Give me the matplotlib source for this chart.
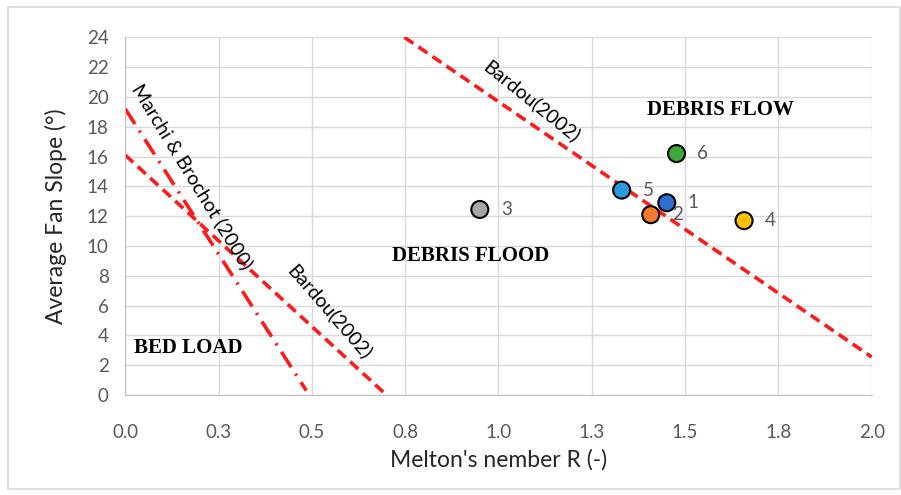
import matplotlib.pyplot as plt
from matplotlib.patches import Rectangle

# basins: Melton number R and average fan slope
basin_ids = ["1", "2", "3", "4", "5", "6"]
melton_r = [1.451, 1.408, 0.950, 1.658, 1.330, 1.477]
fan_slope = [12.9, 12.1, 12.45, 11.7, 13.75, 16.2]
basin_colors = ["#2f6fd2", "#f47a30", "#a6a6a6", "#ffc000", "#2b9be0", "#3fa83a"]

# threshold lines (end points)
bardou_upper_r = [0.748, 2.0]
bardou_upper_s = [24.0, 2.55]
bardou_lower_r = [0.0, 0.70]
bardou_lower_s = [16.1, 0.0]
marchi_r = [0.0, 0.485]
marchi_s = [19.2, 0.3]

x_ticks = [0.0, 0.25, 0.5, 0.75, 1.0, 1.25, 1.5, 1.75, 2.0]
x_tick_labels = ["0.0", "0.3", "0.5", "0.8", "1.0", "1.3", "1.5", "1.8", "2.0"]
y_ticks = list(range(0, 25, 2))

plt.rcParams["font.family"] = ["Lato", "DejaVu Sans"]

fig = plt.figure(figsize=(9.01, 4.95), dpi=100)
ax = fig.add_axes([0.139, 0.202, 0.8285, 0.7226])

fig.patches.append(Rectangle((0.009, 0.012), 0.99, 0.973, transform=fig.transFigure,
                             fill=False, edgecolor="#d9d9d9", linewidth=1.2))

ax.set_xlim(0, 2.0)
ax.set_ylim(0, 24)
ax.set_xticks(x_ticks)
ax.set_xticklabels(x_tick_labels)
ax.set_yticks(y_ticks)
ax.grid(True, color="#d9d9d9", linewidth=1)
ax.set_axisbelow(True)
for side in ["top", "right"]:
    ax.spines[side].set_visible(False)
for side in ["left", "bottom"]:
    ax.spines[side].set_color("#bfbfbf")
ax.tick_params(length=0, labelsize=13.5, labelcolor="#595959")
ax.tick_params(axis="x", pad=21)
ax.tick_params(axis="y", pad=12)

red = "#ff1a1a"
ax.plot(bardou_upper_r, bardou_upper_s, color=red, lw=2.6, linestyle=(0, (3, 1.7)))
ax.plot(bardou_lower_r, bardou_lower_s, color=red, lw=2.6, linestyle=(0, (3, 1.7)))
ax.plot(marchi_r, marchi_s, color=red, lw=2.6, linestyle=(0, (5, 2.2, 0.6, 2.2)))

ax.scatter(melton_r, fan_slope, s=150, c=basin_colors, edgecolors="black",
           linewidths=1.5, zorder=5)
for name, r, s in zip(basin_ids, melton_r, fan_slope):
    ax.annotate(name, (r, s), xytext=(19, 0), textcoords="offset points",
                va="center", ha="center", fontsize=13.5, color="#595959", zorder=6)

ax.text(0.03, 20.8, "Marchi & Brochot (2000)", rotation=-58.5, rotation_mode="anchor",
        ha="left", va="center", fontsize=14)
ax.text(0.965, 22.2, "Bardou(2002)", rotation=-39, rotation_mode="anchor",
        ha="left", va="center", fontsize=14)
ax.text(0.445, 8.6, "Bardou(2002)", rotation=-49, rotation_mode="anchor",
        ha="left", va="center", fontsize=14)

region_font = dict(family=["Liberation Serif", "DejaVu Serif"], fontweight="bold",
                   fontsize=15, ha="center", va="center")
ax.text(1.594, 19.1, "DEBRIS FLOW", **region_font)
ax.text(0.925, 9.35, "DEBRIS FLOOD", **region_font)
ax.text(0.168, 3.15, "BED LOAD", **region_font)

ax.set_xlabel("Melton's nember R (-)", fontsize=16.5, color="#262626", labelpad=6)
ax.set_ylabel("Average Fan Slope (°)", fontsize=16.5, color="#262626", labelpad=14)

fig.savefig("out.png", dpi=100)
